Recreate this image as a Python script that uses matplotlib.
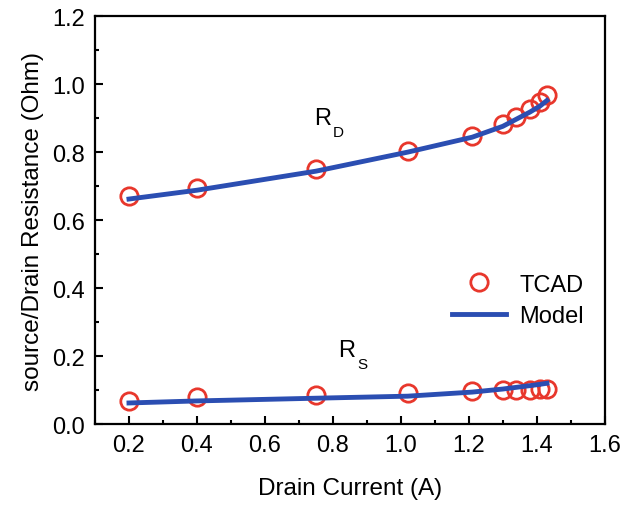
import matplotlib.pyplot as plt
from matplotlib.ticker import MultipleLocator

plt.rcParams['font.family'] = ['Liberation Sans', 'DejaVu Sans']

# Drain current (A) at the TCAD sample points
current = [0.20, 0.40, 0.75, 1.02, 1.21, 1.30, 1.34, 1.38, 1.41, 1.43]

# TCAD extracted resistances (Ohm)
rd_tcad = [0.670, 0.694, 0.750, 0.803, 0.847, 0.882, 0.903, 0.926, 0.947, 0.968]
rs_tcad = [0.068, 0.079, 0.085, 0.091, 0.097, 0.100, 0.100, 0.101, 0.102, 0.103]

# Model curves (Ohm)
rd_model = [0.662, 0.688, 0.744, 0.800, 0.844, 0.876, 0.897, 0.918, 0.936, 0.952]
rs_model = [0.062, 0.068, 0.076, 0.082, 0.094, 0.103, 0.108, 0.113, 0.117, 0.120]

red = '#e8372c'
blue = '#2b4eb2'

fig = plt.figure(figsize=(6.44, 5.06), dpi=100)
ax = fig.add_axes([0.1475, 0.160, 0.7915, 0.806])

ax.plot(current, rd_tcad, 'o', mfc='none', mec=red, ms=12.5, mew=2, label='TCAD', zorder=3)
ax.plot(current, rs_tcad, 'o', mfc='none', mec=red, ms=12.5, mew=2, zorder=3)
ax.plot(current, rd_model, '-', color=blue, lw=3.5, label='Model', zorder=4)
ax.plot(current, rs_model, '-', color=blue, lw=3.5, zorder=4)


def label_r(x, y, sub):
    # big R with a small, deep subscript
    ax.text(x, y, 'R', fontsize=17, ha='center', va='center')
    ax.annotate(sub, (x, y), xytext=(11.5, -10), textcoords='offset points',
                fontsize=11, ha='center', va='center')


label_r(0.77, 0.90, 'D')
label_r(0.841, 0.218, 'S')

ax.set_xlim(0.1, 1.6)
ax.set_ylim(0.0, 1.2)
ax.xaxis.set_minor_locator(MultipleLocator(0.1))
ax.yaxis.set_major_locator(MultipleLocator(0.2))
ax.yaxis.set_minor_locator(MultipleLocator(0.1))
ax.set_xticks([0.2, 0.4, 0.6, 0.8, 1.0, 1.2, 1.4, 1.6])
ax.xaxis.set_major_formatter(plt.FormatStrFormatter('%.1f'))
ax.yaxis.set_major_formatter(plt.FormatStrFormatter('%.1f'))

ax.tick_params(which='both', direction='in', labelsize=17, width=1.5, pad=7)
ax.tick_params(which='major', length=6)
ax.tick_params(which='minor', length=3)
for s in ax.spines.values():
    s.set_linewidth(1.6)

ax.set_xlabel('Drain Current (A)', fontsize=17.5, labelpad=15)
ax.set_ylabel('source/Drain Resistance (Ohm)', fontsize=17.5, labelpad=6)

ax.legend(loc='center left', bbox_to_anchor=(0.70, 0.303), frameon=False,
          fontsize=17, borderpad=0, borderaxespad=0, handlelength=2.3,
          handletextpad=0.55, labelspacing=0.4)

fig.savefig('out.png', dpi=100)
